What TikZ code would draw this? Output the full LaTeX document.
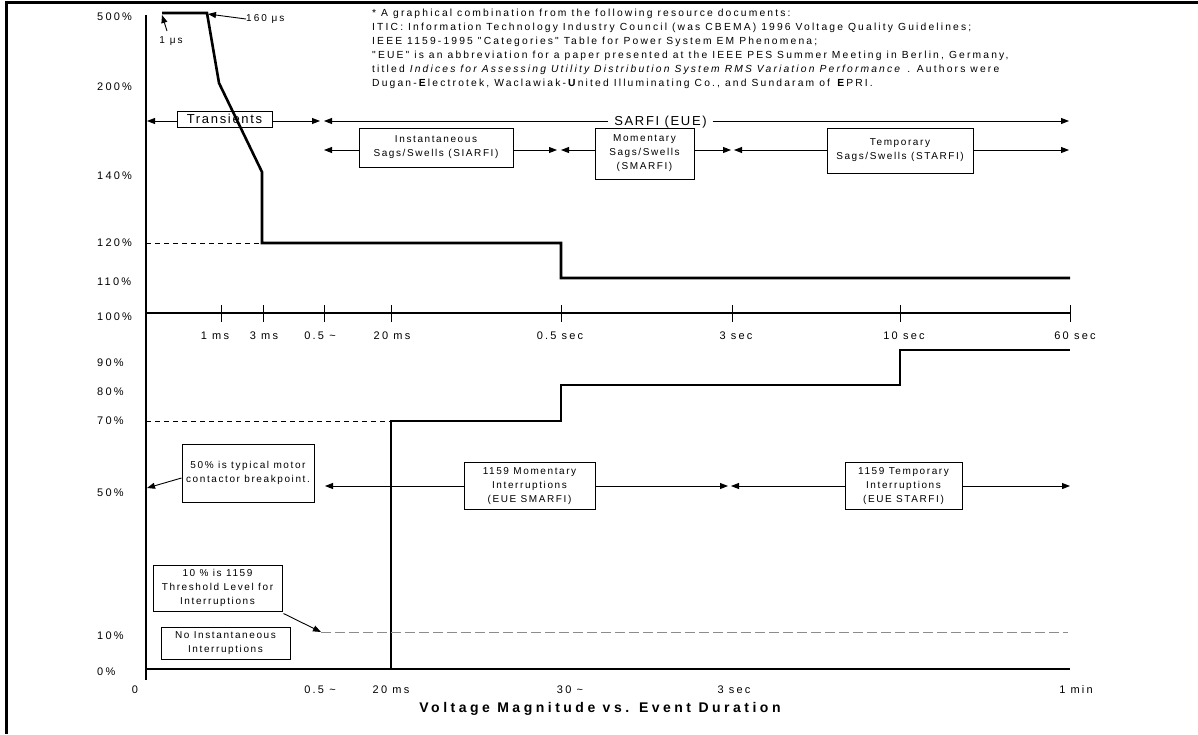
\documentclass[tikz,border=0pt]{standalone}
\usepackage{fontspec}
\setmainfont{Liberation Sans}
\newfontfamily\fAx[LetterSpace=20]{Liberation Sans}
\newfontfamily\fBx[LetterSpace=16]{Liberation Sans}
\newfontfamily\fNt[LetterSpace=21]{Liberation Sans}
\newfontfamily\fBg[LetterSpace=13]{Liberation Sans}
\newfontfamily\fTt[LetterSpace=25]{Liberation Sans}
\usetikzlibrary{arrows.meta}
\begin{document}
\begin{tikzpicture}[x=1pt,y=-1pt,
 ylab/.style={anchor=west,inner sep=0pt,font=\fAx\fontsize{11}{13}\selectfont},
 xlab/.style={inner sep=0pt,font=\fAx\fontsize{11}{13}\selectfont},
 bx/.style={draw,line width=1pt,align=center,inner sep=0pt,font=\fBx\fontsize{10}{14}\selectfont},
 note/.style={anchor=base west,inner sep=0pt,font=\fNt\fontsize{10.3}{12}\selectfont},
 big/.style={inner sep=0pt,font=\fBg\fontsize{13}{15}\selectfont},
 arr/.style={-{Triangle[length=8pt,width=6pt]},line width=0.9pt},
 plotline/.style={line width=2.6pt,line join=miter},
 axisline/.style={line width=1.2pt},
 dsh/.style={line width=0.8pt,dash pattern=on 5pt off 4pt},
 gdsh/.style={line width=1pt,draw=black!45,dash pattern=on 10pt off 4pt}]
\useasboundingbox (0,0) rectangle (1198,734);
% frame
\draw[line width=3.5pt] (5,2.5) -- (1198,2.5);
\draw[line width=2.5pt] (6.5,0.75) -- (6.5,734);

% note text
\node[note] (n1) at (372,16.5) {* A graphical combination from the following resource documents:};
\node[note] (n2) at (372,30.5) {ITIC: Information Technology Industry Council (was CBEMA) 1996 Voltage Quality Guidelines;};
\node[note] (n3) at (372,44.5) {IEEE 1159-1995 "Categories" Table for Power System EM Phenomena;};
\node[note] (n4) at (372,58.5) {"EUE" is an abbreviation for a paper presented at the IEEE PES Summer Meeting in Berlin, Germany,};
\node[note] (n5) at (372,72.5) {titled \textit{Indices for Assessing Utility Distribution System RMS Variation Performance} . Authors were};
\node[note] (n6) at (372,86.5) {Dugan-\textbf{E}lectrotek, Waclawiak-\textbf{U}nited Illuminating Co., and Sundaram of \textbf{E}PRI.};

% axes
\draw[axisline] (146,15) -- (146,680);
\draw[axisline] (146,313) -- (1070,313);
\draw[axisline] (146,669) -- (1070,669);
\foreach \x in {221,263,324,391,561,732,900,1070}
  \draw[line width=0.9pt] (\x,305) -- (\x,322);

% y labels
\node[ylab] (l500) at (97,17) {500\%};
\node[ylab] (l200) at (97,87) {200\%};
\node[ylab] (l140) at (97,176) {140\%};
\node[ylab] (l120) at (97,243) {120\%};
\node[ylab] (l110) at (97,282) {110\%};
\node[ylab] (l100) at (97,317) {100\%};
\node[ylab] (l90) at (97,363) {90\%};
\node[ylab] (l80) at (97,392) {80\%};
\node[ylab] (l70) at (97,421) {70\%};
\node[ylab] (l50) at (97,493) {50\%};
\node[ylab] (l10) at (97,636) {10\%};
\node[ylab] (l0) at (97,672) {0\%};

% x labels (middle axis)
\node[xlab] (x1) at (215,336) {1 ms};
\node[xlab] (x2) at (264,336) {3 ms};
\node[xlab] (x3) at (320,336) {0.5 \textasciitilde};
\node[xlab] (x4) at (392,336) {20 ms};
\node[xlab] (x5) at (560,336) {0.5 sec};
\node[xlab] (x6) at (736,336) {3 sec};
\node[xlab] (x7) at (904,336) {10 sec};
\node[xlab] (x8) at (1075,336) {60 sec};

% x labels (bottom axis)
\node[xlab] (b0) at (135,690) {0};
\node[xlab] (b1) at (320,690) {0.5 \textasciitilde};
\node[xlab] (b2) at (391,690) {20 ms};
\node[xlab] (b3) at (570,690) {30 \textasciitilde};
\node[xlab] (b4) at (734,690) {3 sec};
\node[xlab] (b5) at (1076,690) {1 min};
\node[inner sep=0pt,font=\fTt\bfseries\fontsize{14}{16}\selectfont] (title) at (600,709) {Voltage Magnitude vs. Event Duration};

% curves
\draw[plotline] (162,13) -- (207,13) -- (219,83) -- (262,172) -- (262,243) -- (561,243) -- (561,278) -- (1070,278);
\draw[dsh] (146,243) -- (262,243);
\draw[plotline] (391,669) -- (391,421) -- (561,421) -- (561,385) -- (900,385) -- (900,350) -- (1070,350);
\draw[dsh] (146,421) -- (391,421);

% microsecond labels
\node[xlab,font=\fAx\fontsize{10}{12}\selectfont] (us1) at (171,41) {1 μs};
\coordinate (us1t) at (167,31);
\coordinate (us1p) at (162,15);
\draw[arr] (us1t) -- (us1p);
\node[xlab,anchor=west,font=\fAx\fontsize{10}{12}\selectfont] (us160) at (246,19) {160 μs};
\coordinate (us160p) at (208,14);
\draw[arr] (us160.west) -- (us160p);

% row 1: transients / SARFI
\node[bx,font=\fBg\fontsize{13}{15}\selectfont,minimum width=95pt,minimum height=16pt] (trans) at (224.5,119) {\raisebox{-2.5pt}{Transients}};
\coordinate (r1a) at (147,121);
\coordinate (r1b) at (320,121);
\coordinate (r1c) at (324,121);
\coordinate (r1d) at (1069,121);
\draw[arr] (trans.west|-r1a) -- (r1a);
\draw[arr] (trans.east|-r1a) -- (r1b);
\node[big,inner xsep=6pt] (sarfi) at (660.5,122) {SARFI (EUE)};
\draw[arr] (sarfi.west|-r1a) -- (r1c);
\draw[arr] (sarfi.east|-r1a) -- (r1d);

% row 2: sags/swells
\node[bx,minimum width=154pt,minimum height=39pt] (inst) at (436,147.5) {Instantaneous\\Sags/Swells (SIARFI)};
\node[bx,minimum width=99pt,minimum height=51pt] (mom) at (644.5,153.5) {Momentary\\Sags/Swells\\(SMARFI)};
\node[bx,minimum width=146pt,minimum height=45pt] (temp) at (900,150.5) {Temporary\\Sags/Swells (STARFI)};
\coordinate (r2a) at (324,150);
\coordinate (r2b) at (557,150);
\coordinate (r2c) at (561,150);
\coordinate (r2d) at (731,150);
\coordinate (r2e) at (734,150);
\coordinate (r2f) at (1069,150);
\draw[arr] (inst.west|-r2a) -- (r2a);
\draw[arr] (inst.east|-r2a) -- (r2b);
\draw[arr] (mom.west|-r2a) -- (r2c);
\draw[arr] (mom.east|-r2a) -- (r2d);
\draw[arr] (temp.west|-r2a) -- (r2e);
\draw[arr] (temp.east|-r2a) -- (r2f);

% row 3: interruptions
\node[bx,minimum width=132pt,minimum height=58pt] (b50) at (248,473) {50\% is typical motor\\contactor breakpoint.};
\coordinate (b50p) at (147,488);
\draw[arr] ([yshift=-5pt]b50.west) -- (b50p);
\node[bx,minimum width=131pt,minimum height=47pt] (m1159) at (529.5,486) {1159 Momentary\\Interruptions\\(EUE SMARFI)};
\node[bx,minimum width=117pt,minimum height=47pt] (t1159) at (903.5,486) {1159 Temporary\\Interruptions\\(EUE STARFI)};
\coordinate (r3a) at (325,486);
\coordinate (r3b) at (728,486);
\coordinate (r3c) at (731,486);
\coordinate (r3d) at (1070,486);
\draw[arr] (m1159.west) -- (r3a);
\draw[arr] (m1159.east) -- (r3b);
\draw[arr] (t1159.west) -- (r3c);
\draw[arr] (t1159.east) -- (r3d);

% 10% threshold
\node[bx,minimum width=129pt,minimum height=46pt] (b10) at (217.5,588) {10 \% is 1159\\Threshold Level for\\Interruptions};
\node[bx,minimum width=129pt,minimum height=32pt] (bni) at (225.5,643) {No Instantaneous\\Interruptions};
\coordinate (d10) at (321,632);
\coordinate (d10e) at (1068,632);
\draw[arr] ([xshift=1pt,yshift=-2pt]b10.south east) -- (d10);
\draw[gdsh] (d10) -- (d10e);
\end{tikzpicture}
\end{document}
